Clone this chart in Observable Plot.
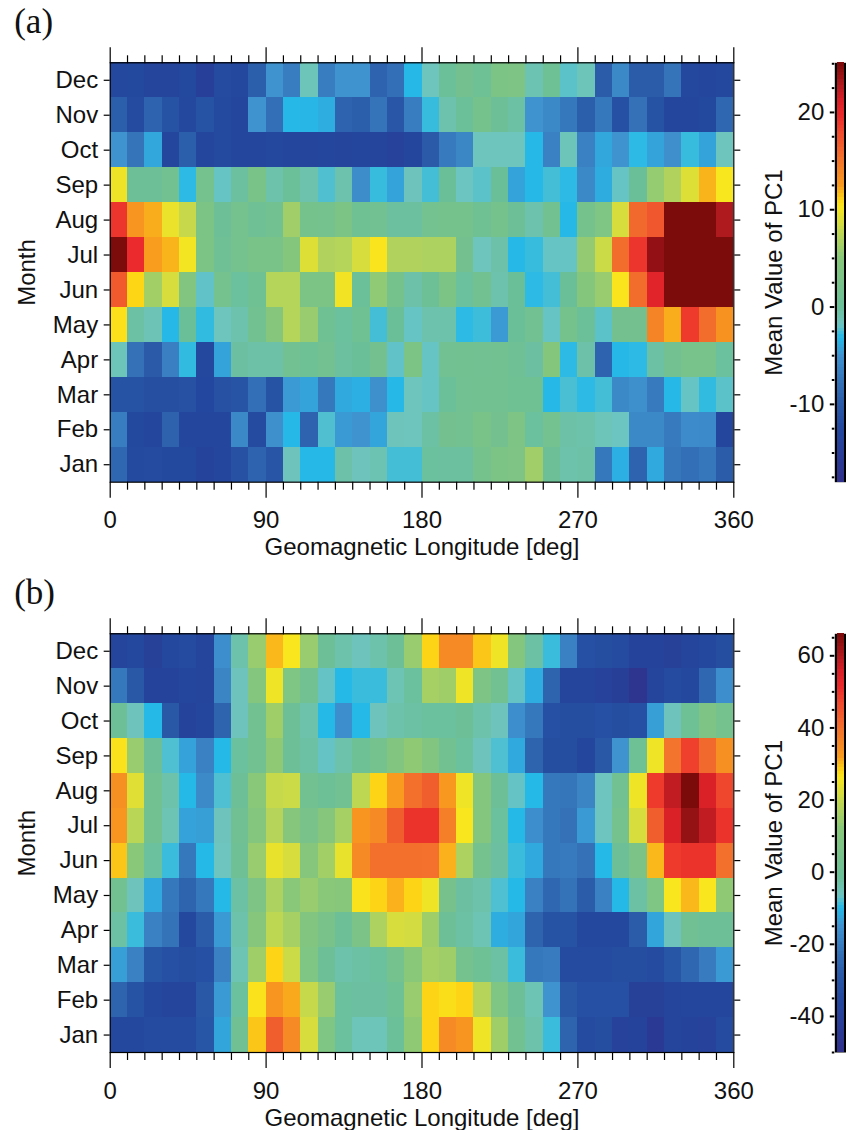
<!DOCTYPE html>
<html>
<head>
<meta charset="utf-8">
<script src="https://cdn.jsdelivr.net/npm/d3@7"></script>
<script src="https://cdn.jsdelivr.net/npm/@observablehq/plot@0.6"></script>
<style>
html,body{margin:0;padding:0;background:#fff;}
#root{position:relative;width:846px;height:1130px;overflow:hidden;}
#root svg{position:absolute;display:block;overflow:visible;}
</style>
</head>
<body>
<div id="root"></div>
<script>
const months = ["Dec","Nov","Oct","Sep","Aug","Jul","Jun","May","Apr","Mar","Feb","Jan"];
const majorLon = [0,90,180,270,360];
const minorLon = [10,20,30,40,50,60,70,80,100,110,120,130,140,150,160,170,190,200,210,220,230,240,250,260,280,290,300,310,320,330,340,350];
const axisTitleX = "Geomagnetic Longitude [deg]";
const axisTitleY = "Month";
const barTitle = "Mean Value of PC1";

// Panel (a) mean PC1, 10-degree bins, Dec → Jan
const aDec = [-12.5,-12.3,-13.5,-13.5,-12.3,-14.5,-12,-12.5,-9.5,-5,-6.8,-1.5,-6.8,-5,-5,-9,-8,-3.2,-1.8,0,1.5,.5,3,3.2,-1.2,.5,-2.2,-1.5,-9.8,-5.8,-9.8,-9.8,-7.5,-12.5,-12.8,-12.5];
const aNov = [-9.5,-12,-9,-11,-12.5,-11,-12.2,-12.8,-5,-8,-3.2,-3.3,-3.7,-9,-9.5,-7.5,-10.5,-6.8,-2.8,-1,0,2,.3,-.5,-5,-5.8,-7.2,-9.5,-7.2,-11.3,-7.8,-11,-13,-13,-12.3,-8.8];
const aOct = [-5,-7.5,-4,-12.8,-9.5,-13,-12.2,-12.8,-12.8,-12.5,-12.8,-13.3,-13,-13.4,-13,-13.4,-13.8,-12.8,-10,-7,-6,-1.8,-1.8,-1.8,-3.2,-6.5,-1.5,-6.5,-4,-5,-3,-4.2,-5.3,-2.8,-4.2,-1.8];
const aSep = [9.8,.3,.3,1.2,-3,1.7,-2,-.3,2.5,-.8,0,-1,-2.4,-1,-5.5,-2.8,-4.2,-1.7,-2.6,.1,-1.9,-2.2,.1,-4.2,-3.2,-2.6,-3,-5.8,-3.8,-2,.1,5.6,7,9,11.8,10.2];
const aAug = [19,12.8,12,9.6,8,3,.2,1.7,.7,1.2,6.2,1.8,1.7,3,.8,1,-.3,-.3,1.6,1.8,1.8,.8,1.8,.2,-1,1.2,-3.2,1.8,3.5,8.7,15.8,17,25,25,25,22.8];
const aJul = [25,19.6,12.4,11.8,10,3,.7,1.7,2.5,2.5,4.5,9,7,7.2,8.7,10.3,7,7,6.8,6.8,1.5,-1.8,-.7,-3.2,-2.8,-2,-2,5.5,8.2,15.5,19,24,25,25,25,25];
const aJun = [16.8,10.9,6.3,8.7,4,-2.1,1.7,-.2,.8,7.2,7.2,3,3,9.9,0,5.4,1.9,-.7,.4,3,-.2,1.2,-.9,.1,-3,-2.6,.1,4.5,5.8,10.3,15.5,20.5,25,25,25,25];
const aMay = [10.5,-.5,-1.4,-3.2,.1,-2.9,-1.8,-1,1.2,4.6,7.2,5.8,.8,-.2,.8,-2.6,.1,-2,-1,-.8,-3,-2.7,-4.7,.1,1,-2,1.8,0,-2.2,1.5,1.5,14,12,18.7,15.5,13];
const aApr = [-1.5,-7.8,-10,-6.6,-2.9,-12.5,-4.2,-.4,-.6,-.6,1,.5,1.4,-.3,.1,1.5,-2.1,3,-2,1,1.2,1,1.2,.7,-.4,4.4,-3,-.7,-9,-3.2,-3,-.5,1.4,2.2,2.2,-.2];
const aMar = [-11,-11,-11.5,-11.5,-11.2,-12.6,-11.2,-10.8,-8,-11,-4.7,-4.2,-7.2,-3.9,-3.6,-5.2,-3.2,-1.8,-2,0,1,1.2,1.2,.8,.8,-3.2,-2.5,-3,-2.6,-5.8,-5.2,-7,-3.2,-2,-2.9,-2.2];
const aFeb = [-6.8,-12.3,-13,-9.2,-13,-13,-13,-5.8,-12,-5.2,-3.2,-9,-2.4,-4.6,-5,-4.1,-1.6,-1.8,-.5,1.5,1.4,2.5,1.5,3.2,-.2,1.6,-.6,-.8,-1.5,-1.9,-5.8,-5.8,-7,-5.6,-5.7,-13];
const aJan = [-8.8,-12.2,-12,-12.3,-12.3,-13.6,-13,-11.2,-9,-10.7,-1.7,-3.2,-3.2,-.7,-1.7,-1.2,-2.6,-2.6,-.2,-.3,-.3,1.8,3,3.4,6.2,.2,-.8,-.6,-7.2,-3.6,-9,-3.9,-7.3,-8,-7.3,-9.8];

// Panel (b)
const bDec = [-37,-35,-40,-35,-34,-37,-16,-4,14,30,26,14,-1,-4,-6,-4,-1,14,28,35,35,29,25,10,-3,-9,-19,-32,-33,-34,-38,-38,-40,-37,-35,-33];
const bNov = [-21,-29,-38,-38,-36,-37,-18,-6,10,25,8,1.5,-7,-10,-9,-9,-5,-2,16,15,25,7,1.5,-7,-11.5,-26,-37,-37,-39,-41,-47,-37,-34,-35,-25,-16];
const bOct = [-1,-6,-10,-29,-38,-36,-26,-6,2,15,-1,-4,-10,-16,-10,-6,-4,-3,-2,-2,-1,-4,-6,-16,-21,-32,-33,-33,-32,-33,-32,-13.5,-6,0,7,3];
const bSep = [26.5,14,-1,-8,-13,-19,-10,-2,2,13,-1,-3,-7,-4,0,3,9,13,9,2,-2,-6,-8,-12,-26,-33,-33,-36,-29,-15,0,25,39,48,41,34];
const bAug = [34,23,2,-4,-10,-17,-8,-1,12,20,20.5,2,-.5,1.5,19,28,32,40,43,32.5,25,10,-1,-7,-10,-21,-21.5,-18,-6.5,1.5,25,49,58,66,55,47];
const bJul = [33,18.5,2,-5,-13,-13.5,-6,1,10,18,11,5,11,16,33,35,43,50,50,37,26,10,-2,-10,-16,-21,-22.5,-14,-6.5,3,22,43,55,63,58,50];
const bJun = [29,12,-2,-9,-21,-10,-6.5,.5,14,24,22,11,15.5,24,35,40,40,40,39.5,30.5,17,3,-2.5,-9,-12,-21,-20.5,-22.5,-10,-1,6,30,49,50,50,40];
const bMay = [2,-6,-12,-21,-26,-21,-10,-3,7,17,12,14,12,11.5,26.5,28,30.5,28,25,4,-2.5,-4,-8,-10,-19,-25,-22,-28,-19,-10,-3,8,26,30,26,13];
const bApr = [-3,-9,-19,-22,-35,-28,-14,-4,11,19,16,9,5,-1,6,17,22,21.5,15,-1,-3,-5,-11.5,-12.5,-26,-31,-31,-35,-35,-35,-28,-12.5,-6,1,-1,-1];
const bMar = [-13.5,-19,-30,-32,-33,-32,-19,-5,15,28,20.5,8,-1,-4,-3,-2,3,12,16,15,3,0,-3,-9,-21,-20,-34,-34,-34,-33,-33,-34,-30,-25,-20,-14];
const bFeb = [-26,-31,-35,-37,-37,-29,-14,-2,26.5,33,31,20,14,-2,-2.5,-2.5,0,14,28,27,28,18,8,-1,-5,-15,-29,-32,-32,-32,-40,-40,-37,-36,-36,-36];
const bJan = [-35,-35,-34,-34,-34,-30,-12.5,1,29,43,35,22,8,-2,-5.5,-5.5,-1.5,13,28,35,33,25,15,2,-4,-9,-26,-34,-33,-39,-38,-44,-37,-38,-39,-34];

// Shared colormap: position on the bar (0 bottom, 1 top) and colour
const cmapT = [0,.052,.129,.186,.243,.302,.345,.374,.419,.533,.588,.655,.67,.707,.767,.826,.873,.91,.945,1];
const cmapC = ["#30308a","#2a3a94","#23489e","#2a5aa8","#3574b9","#3f93cf","#25b9e8","#6ec5c0","#6bbf98","#88c77a","#b8d558","#f9e61e","#fdd816","#f89a1e","#f3742c","#f04e2e","#ea2a2c","#d71f27","#b01a1f","#7a0a0a"];

const panelA = {name:"(a)", rows:[aDec,aNov,aOct,aSep,aAug,aJul,aJun,aMay,aApr,aMar,aFeb,aJan],
  lo:-18, hi:25.1, major:[-10,0,10,20], minorStep:2.5, top:0, height:570, plotTop:62.3, plotBottom:481.7};
const panelB = {name:"(b)", rows:[bDec,bNov,bOct,bSep,bAug,bJul,bJun,bMay,bApr,bMar,bFeb,bJan],
  lo:-50, hi:66.1, major:[-40,-20,0,20,40,60], minorStep:5, top:570, height:560, plotTop:63.3, plotBottom:482};

const FONT = "'Liberation Sans', Arial, sans-serif";
const FS = 24;
const root = document.getElementById("root");

function draw(p){
  const domain = cmapT.map(t => p.lo + t*(p.hi-p.lo));
  const color = {type:"linear", domain, range:cmapC, clamp:true};
  const cells = p.rows.flatMap((r,i) => r.map((v,j) => ({month:months[i], lon:j*10, v})));
  const lonTicks = (anchor, vals, size, fmt) => Plot.axisX(vals, {anchor, tickSize:size, tickFormat:fmt||(()=>""), label:null, strokeWidth:1.2, stroke:"#000", fontSize:FS, tickPadding:13, fill:"#111"});
  const main = Plot.plot({
    width:846, height:p.height,
    marginLeft:109.7, marginRight:112.7, marginTop:p.plotTop, marginBottom:p.height-p.plotBottom,
    style:{fontFamily:FONT, fontSize:FS+"px", background:"transparent", color:"#111"},
    x:{domain:[0,360], axis:null},
    y:{type:"band", domain:months, padding:0, round:false, axis:null},
    color,
    marks:[
      Plot.barX(cells, {x1:"lon", x2:d=>d.lon+10, y:"month", fill:"v", inset:0, shapeRendering:"crispEdges"}),
      Plot.frame({stroke:"#000", strokeWidth:1.2}),
      lonTicks("top", majorLon, 16),
      lonTicks("top", minorLon, 8),
      lonTicks("bottom", majorLon, 16, d=>String(d)),
      lonTicks("bottom", minorLon, 8),
      Plot.axisY(months, {anchor:"left", tickSize:6, tickPadding:6, label:null, stroke:"#000", strokeWidth:1.2, fontSize:FS, fill:"#111"}),
      Plot.axisY(months, {anchor:"right", tickSize:6, tickFormat:()=>"", label:null, stroke:"#000", strokeWidth:1.2}),
      Plot.text([axisTitleX], {frameAnchor:"bottom", dy:73, lineAnchor:"bottom", text:d=>d, fontSize:FS, fill:"#111"}),
      Plot.text([axisTitleY], {frameAnchor:"left", dx:-75.5, rotate:-90, textAnchor:"middle", lineAnchor:"bottom", text:d=>d, fontSize:FS, fill:"#111"}),
      Plot.text([p.name], {frameAnchor:"top-left", dx:-96, dy:-55, textAnchor:"start", lineAnchor:"top", text:d=>d, fontSize:35, fontFamily:"'Liberation Serif', serif", fill:"#111"})
    ]
  });
  main.style.left="0px"; main.style.top=p.top+"px";
  root.appendChild(main);

  const levels = d3.range(0,128).map(i => ({a:p.lo+i*(p.hi-p.lo)/128, b:p.lo+(i+1)*(p.hi-p.lo)/128}));
  const minors = d3.range(Math.ceil(p.lo/p.minorStep), Math.floor(p.hi/p.minorStep)+1).map(k=>k*p.minorStep).filter(v=>!p.major.includes(v));
  const bar = Plot.plot({
    width:126, height:p.height,
    marginLeft:114.3, marginRight:-0, marginTop:p.plotTop, marginBottom:p.height-p.plotBottom,
    style:{fontFamily:FONT, fontSize:FS+"px", background:"transparent", color:"#111"},
    x:{domain:[0,1], axis:null},
    y:{domain:[p.lo,p.hi], axis:null},
    color,
    marks:[
      Plot.frame({fill:"#000", stroke:"none"}),
      Plot.rect(levels, {x1:0, x2:1, y1:"a", y2:"b", fill:d=>(d.a+d.b)/2, insetLeft:2.7, insetRight:2, shapeRendering:"crispEdges"}),
      Plot.axisY(p.major, {anchor:"left", tickSize:4.5, tickPadding:6, tickFormat:d=>String(d), label:null, stroke:"#000", strokeWidth:2, fontSize:FS, fill:"#111"}),
      Plot.axisY(minors, {anchor:"left", tickSize:2.5, tickFormat:()=>"", label:null, stroke:"#000", strokeWidth:2}),
      Plot.text([barTitle], {frameAnchor:"left", dx:-53, rotate:-90, textAnchor:"middle", lineAnchor:"bottom", text:d=>d, fontSize:FS, fill:"#111"})
    ]
  });
  bar.style.left="720px"; bar.style.top=p.top+"px";
  root.appendChild(bar);
}
draw(panelA);
draw(panelB);
</script>
</body>
</html>
